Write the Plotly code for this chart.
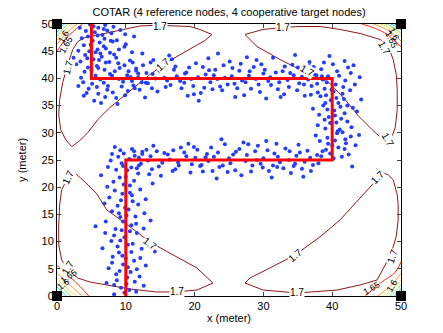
import plotly.graph_objects as go

# reference nodes (corners) and the true target route
anchor_x = [0, 0, 50, 50]
anchor_y = [0, 50, 0, 50]
path_x = [5, 5, 40, 40, 10, 10]
path_y = [50, 40, 40, 25, 25, 0]

# estimated positions, read segment by segment
seg_a = [(5.3, 49.6), (6.8, 49.1), (4.2, 48.7), (7.9, 48.3), (5.9, 47.9), (3.6, 47.4), (8.7, 47.0),
         (6.2, 46.6), (4.9, 46.2), (9.8, 45.8), (7.1, 45.5), (3.1, 45.1), (5.6, 44.8), (8.3, 44.4),
         (6.5, 44.0), (4.4, 43.7), (10.6, 43.3), (7.6, 43.0), (2.8, 42.6), (5.8, 42.3), (9.1, 41.9),
         (6.9, 41.6), (4.0, 41.2), (11.8, 40.9), (8.0, 40.5), (3.5, 40.1), (6.3, 39.8), (9.6, 39.4),
         (5.1, 39.0), (7.4, 38.6), (4.6, 38.1), (10.3, 37.7), (6.0, 37.2), (3.9, 36.8), (8.6, 36.4),
         (5.4, 35.9), (7.0, 49.8), (9.2, 48.9), (3.3, 49.3), (11.2, 47.7), (6.6, 48.0), (4.7, 45.0),
         (8.9, 42.8), (12.4, 44.6), (2.4, 43.8), (7.8, 46.9), (5.0, 41.5), (10.0, 46.3), (6.1, 43.4),
         (3.8, 39.3), (11.5, 41.4), (9.4, 38.5), (12.9, 39.2), (7.3, 37.9),
         (4.8, 49.9), (6.0, 49.3), (8.2, 49.5), (5.5, 48.5), (7.3, 48.8), (9.9, 48.1), (4.5, 47.7),
         (6.9, 47.3), (8.1, 46.8), (5.2, 46.9), (3.9, 46.1), (6.8, 45.9), (9.0, 45.3), (5.9, 45.3),
         (7.7, 44.7), (4.1, 44.3), (10.9, 44.8), (6.3, 44.6), (8.6, 43.8), (5.3, 43.5), (7.1, 42.9),
         (3.4, 43.1), (9.8, 42.4), (6.0, 41.9), (8.4, 41.3), (4.5, 42.0), (7.7, 40.8), (10.7, 40.2),
         (5.6, 40.5), (9.0, 39.9), (6.8, 39.2), (3.1, 38.6), (8.1, 37.4), (11.3, 38.2), (5.8, 38.4),
         (7.0, 36.6), (4.3, 37.3), (9.9, 36.9), (6.4, 35.5), (8.8, 35.3)]
seg_b = [(10.4, 41.3), (11.1, 38.7), (11.8, 40.2), (12.5, 42.4), (13.2, 39.1), (13.9, 40.8), (14.6, 37.6),
         (15.3, 41.9), (16.0, 39.6), (16.7, 43.5), (17.4, 40.4), (18.1, 38.2), (18.8, 41.1), (19.5, 39.9),
         (20.2, 42.8), (20.9, 37.3), (21.6, 40.7), (22.3, 39.3), (23.0, 41.6), (23.7, 38.5), (24.4, 40.1),
         (25.1, 43.1), (25.8, 39.0), (26.5, 41.4), (27.2, 36.9), (27.9, 40.5), (28.6, 42.1), (29.3, 38.9),
         (30.0, 40.9), (30.7, 39.5), (31.4, 43.8), (32.1, 38.0), (32.8, 41.3), (33.5, 39.7), (34.2, 42.5),
         (34.9, 37.8), (35.6, 40.3), (36.3, 41.8), (37.0, 38.6), (37.7, 40.6), (10.9, 39.5), (12.0, 37.9),
         (13.6, 42.9), (14.3, 40.0), (15.8, 38.4), (17.0, 41.6), (18.5, 39.2), (19.9, 37.1), (21.2, 42.1),
         (22.8, 40.6), (24.0, 37.8), (25.5, 41.9), (26.9, 39.6), (28.2, 38.1), (29.7, 42.6), (31.0, 40.2),
         (32.5, 36.6), (33.9, 41.0), (35.2, 39.1), (36.7, 43.0), (37.9, 37.4), (16.3, 44.2), (23.4, 44.6),
         (30.4, 36.3), (20.6, 35.9), (27.6, 43.9), (34.6, 44.3), (12.8, 36.5),
         (10.2, 40.6), (11.5, 41.8), (12.3, 39.3), (13.0, 41.0), (13.8, 38.2), (14.9, 41.4), (15.6, 40.1),
         (16.5, 38.8), (17.2, 42.2), (17.9, 39.5), (18.6, 40.9), (19.2, 42.0), (19.8, 38.6), (20.5, 40.2),
         (21.4, 38.3), (22.1, 41.5), (22.6, 38.0), (23.3, 39.9), (24.2, 42.4), (24.8, 38.9), (25.4, 40.4),
         (26.2, 38.2), (26.7, 42.7), (27.4, 39.3), (28.0, 41.3), (28.9, 39.9), (29.5, 37.5), (30.2, 41.6),
         (31.1, 38.8), (31.8, 41.1), (32.3, 39.3), (33.1, 42.2), (33.7, 38.4), (34.4, 40.6), (35.0, 42.0),
         (35.9, 38.9), (36.5, 39.8), (37.3, 42.1), (37.8, 39.0), (38.5, 40.4), (14.0, 43.4), (19.0, 36.8),
         (25.9, 36.6), (29.0, 43.4), (33.0, 37.1), (36.0, 36.8), (11.0, 42.9), (22.0, 43.7)]
seg_c = [(38.4, 41.7), (39.2, 39.3), (40.1, 42.6), (41.0, 40.5), (41.8, 43.2), (42.7, 41.0), (39.6, 44.1),
         (43.3, 38.9), (38.9, 38.1), (41.5, 37.2), (40.6, 36.4), (39.0, 35.5), (42.2, 35.0), (40.3, 34.1),
         (38.1, 33.3), (41.3, 32.6), (39.7, 31.8), (42.8, 31.0), (40.8, 30.3), (37.6, 29.5), (41.9, 28.8),
         (39.4, 28.0), (40.9, 27.3), (38.6, 26.6), (42.4, 26.0), (40.2, 25.3), (39.9, 37.9), (41.2, 34.8),
         (38.3, 36.7), (43.6, 33.9), (39.5, 32.9), (40.7, 29.9), (37.9, 31.4), (42.0, 28.1), (41.6, 38.4),
         (44.2, 36.1), (36.9, 37.0), (43.9, 29.6), (39.1, 26.9), (41.4, 25.6), (38.0, 24.4), (42.9, 23.8),
         (40.5, 38.9), (39.8, 36.0), (40.4, 33.2), (41.1, 30.6), (39.3, 29.1), (40.0, 27.7), (43.1, 42.4),
         (37.4, 40.7),
         (38.8, 42.9), (40.7, 41.3), (42.3, 42.0), (39.4, 40.4), (41.9, 39.6), (38.6, 39.8), (40.2, 37.6),
         (42.6, 37.8), (39.1, 36.9), (41.7, 36.2), (38.7, 35.0), (40.9, 35.5), (43.0, 34.6), (39.3, 34.3),
         (41.8, 33.6), (38.9, 32.4), (40.6, 31.9), (42.2, 32.1), (39.0, 30.8), (41.5, 30.1), (38.2, 28.5),
         (40.4, 28.6), (42.7, 29.3), (39.7, 26.2), (41.8, 27.0), (38.4, 25.7), (43.4, 27.7), (37.2, 34.4),
         (44.0, 40.2), (36.6, 42.3)]
seg_d = [(37.2, 24.1), (36.4, 26.7), (35.6, 23.4), (34.8, 25.8), (34.0, 22.6), (33.2, 27.1), (32.4, 24.6),
         (31.6, 26.2), (30.8, 23.0), (30.0, 25.3), (29.2, 27.6), (28.4, 24.0), (27.6, 25.9), (26.8, 22.2),
         (26.0, 26.5), (25.2, 24.4), (24.4, 27.9), (23.6, 23.7), (22.8, 25.6), (22.0, 24.8), (21.2, 22.9),
         (20.4, 26.9), (19.6, 24.2), (18.8, 25.7), (18.0, 27.3), (17.2, 23.3), (16.4, 25.1), (15.6, 26.3),
         (14.8, 23.8), (14.0, 27.6), (13.2, 24.9), (12.4, 26.1), (11.6, 23.5), (35.1, 27.8), (31.2, 21.8),
         (27.1, 28.2), (23.2, 21.6), (19.1, 28.0), (15.1, 22.1), (33.7, 25.0), (29.6, 24.3), (25.6, 26.0),
         (21.6, 25.5), (17.6, 24.6), (13.6, 25.7), (36.8, 25.4), (28.8, 26.6), (20.8, 23.9), (24.8, 22.8),
         (32.0, 23.7), (16.9, 26.8), (30.4, 28.5), (22.4, 27.3), (34.4, 23.9),
         (37.8, 25.9), (36.9, 23.0), (36.0, 24.7), (35.3, 26.4), (34.6, 24.3), (33.8, 26.6), (32.9, 23.5),
         (32.1, 25.6), (31.4, 24.0), (30.6, 26.8), (29.9, 23.6), (29.0, 25.0), (28.2, 22.9), (27.4, 24.8),
         (26.5, 27.0), (25.9, 23.1), (25.0, 25.3), (24.1, 24.0), (23.4, 26.4), (22.6, 23.0), (21.8, 26.1),
         (21.0, 24.1), (20.1, 25.4), (19.4, 22.7), (18.5, 26.4), (17.7, 24.0), (16.8, 23.0), (16.1, 26.0),
         (15.3, 24.5), (14.5, 26.6), (13.8, 23.3), (13.0, 26.9), (12.2, 24.3), (11.2, 26.6), (35.8, 21.9),
         (27.8, 27.9), (19.9, 27.4), (13.4, 22.4), (31.9, 28.0), (23.9, 28.8)]
seg_e = [(8.4, 27.4), (9.7, 26.2), (11.3, 25.8), (7.8, 24.9), (10.9, 27.0), (12.4, 26.5), (8.9, 25.6),
         (7.4, 23.7), (10.2, 23.1), (11.8, 22.5), (9.1, 21.8), (8.2, 21.0), (10.6, 20.3), (12.1, 19.6),
         (9.5, 18.8), (7.6, 18.1), (11.0, 17.4), (8.8, 16.6), (10.4, 15.9), (12.7, 15.2), (9.2, 14.5),
         (7.1, 13.7), (10.8, 13.0), (8.5, 12.3), (11.6, 11.6), (9.8, 10.8), (7.9, 10.1), (10.3, 9.4),
         (12.3, 8.7), (9.0, 8.0), (8.1, 7.2), (11.2, 6.5), (9.6, 5.8), (7.5, 5.1), (10.7, 4.4), (12.0, 3.6),
         (8.7, 2.9), (10.1, 2.2), (9.3, 1.5), (11.5, 0.8), (8.3, 0.3), (10.5, 1.1), (6.6, 8.8), (13.2, 10.3),
         (6.9, 17.0), (13.6, 13.9), (7.2, 2.4), (12.6, 1.9), (9.9, 16.2), (10.0, 6.9), (9.4, 12.1),
         (10.6, 19.0), (11.4, 14.6), (8.6, 4.0), (11.9, 24.0), (6.4, 22.2), (13.9, 20.7), (9.6, 23.9),
         (14.2, 8.2), (5.6, 12.8),
         (9.2, 26.8), (10.5, 25.2), (8.0, 26.1), (11.9, 25.4), (9.4, 24.4), (10.8, 23.6), (8.6, 23.2),
         (11.2, 21.2), (9.7, 20.5), (8.4, 19.4), (10.9, 18.5), (9.3, 17.6), (11.8, 16.8), (8.0, 15.6),
         (10.1, 14.8), (11.5, 13.3), (9.6, 13.7), (8.3, 11.1), (10.6, 11.9), (12.6, 12.4), (9.2, 10.2),
         (11.0, 9.6), (8.8, 9.1), (10.8, 8.1), (9.5, 7.4), (12.1, 7.0), (8.0, 6.1), (10.3, 5.3), (11.6, 4.9),
         (9.1, 4.6), (10.2, 3.4), (8.3, 2.0), (11.3, 2.6), (9.8, 0.6), (12.9, 5.6), (7.0, 11.6), (12.9, 17.8),
         (7.3, 20.1), (10.0, 21.9), (9.0, 15.2)]

# 1.7 contour loops
loop_tl_x = [2.14, 3.30, 4.47, 5.92, 7.67, 10.58, 13.49, 16.40, 19.32, 21.50, 22.52, 20.77, 19.32, 16.40,
             14.22, 12.04, 9.13, 6.22, 4.04, 3.03, 2.29, 1.56, 0.83, 0.39, 0.25, 0.54, 1.27, 2.14]
loop_tl_y = [27.44, 28.55, 30.02, 32.41, 34.62, 37.75, 40.70, 43.28, 45.30, 46.96, 48.07, 48.99, 49.54, 49.72,
             49.78, 49.63, 48.80, 48.07, 47.51, 46.78, 45.30, 42.54, 39.23, 36.10, 33.33, 30.57, 28.73, 27.44]
loop_tr_x = [27.32, 29.07, 32.42, 35.33, 37.51, 39.69, 41.88, 43.77, 45.81, 47.70, 48.57, 49.16, 49.45, 49.45,
             49.31, 48.87, 48.14, 46.98, 44.07, 41.16, 38.24, 35.33, 32.71, 29.94, 27.32]
loop_tr_y = [48.07, 45.86, 43.46, 41.62, 40.52, 39.04, 36.10, 33.15, 30.57, 28.36, 28.91, 30.94, 34.25, 37.94,
             40.70, 43.46, 45.86, 47.15, 48.25, 48.99, 49.54, 49.54, 49.36, 48.99, 48.07]
loop_bl_x = [2.58, 4.19, 5.78, 7.23, 9.85, 13.49, 17.13, 20.33, 22.66, 20.33, 17.13, 14.51, 10.58, 7.23,
             4.76, 3.01, 1.56, 0.68, 0.25, 0.25, 0.39, 0.68, 1.56, 2.58]
loop_bl_y = [22.65, 20.81, 18.78, 15.84, 13.44, 9.94, 7.37, 5.16, 2.39, 1.10, 0.74, 0.74, 1.29, 2.03,
             2.58, 3.31, 4.79, 6.63, 9.39, 13.08, 16.76, 19.52, 21.73, 22.65]
loop_br_x = [47.40, 45.51, 43.33, 41.15, 38.24, 34.60, 30.96, 28.05, 27.32, 29.94, 34.89, 40.71, 44.07, 46.53,
             47.70, 48.72, 49.30, 49.59, 49.59, 49.45, 48.87, 48.14, 47.40]
loop_br_y = [22.65, 20.07, 17.13, 14.00, 10.87, 7.55, 5.16, 3.31, 2.39, 1.10, 0.55, 1.10, 2.03, 2.95,
             5.71, 8.47, 10.87, 13.99, 16.76, 18.60, 21.36, 22.28, 22.65]

# corner contour arcs, outermost (1.65) to innermost
corner_colors = ["#ff2a1a", "#ff9a2a", "#e8e830", "#7ee07e", "#28c8f0", "#2040ff"]
arcs_bl = [([0, 1.6, 3.4, 4.6], [5.6, 3.8, 1.7, 0]), ([0, 1.5, 3.6], [4.2, 2.5, 0]),
           ([0, 1.2, 2.7], [3.2, 1.7, 0]), ([0, 1.0, 2.0], [2.4, 1.2, 0]),
           ([0, 0.7, 1.4], [1.7, 0.8, 0]), ([0, 0.4, 0.8], [1.0, 0.5, 0])]
arcs_tl = [([0, 1.5, 3.7], [45.0, 47.6, 50]), ([0, 1.3, 2.9], [46.2, 48.2, 50]),
           ([0, 1.0, 2.2], [47.0, 48.7, 50]), ([0, 0.8, 1.6], [47.7, 49.0, 50]),
           ([0, 0.5, 1.1], [48.4, 49.3, 50]), ([0, 0.3, 0.6], [49.1, 49.6, 50])]
arcs_tr = [([44.3, 47.6, 50], [50, 48.4, 45.8]), ([46.0, 48.3, 50], [50, 48.7, 46.9]),
           ([47.0, 48.8, 50], [50, 49.0, 47.7]), ([47.8, 49.1, 50], [50, 49.2, 48.3]),
           ([48.5, 49.4, 50], [50, 49.5, 48.9]), ([49.1, 49.6, 50], [50, 49.7, 49.4])]
arcs_br = [([50, 49.2, 47.0, 44.8], [6.3, 4.4, 2.4, 0]), ([50, 48.6, 46.6], [4.2, 2.0, 0]),
           ([50, 48.9, 47.6], [3.0, 1.4, 0]), ([50, 49.2, 48.4], [2.1, 0.9, 0]),
           ([50, 49.5, 49.0], [1.4, 0.6, 0]), ([50, 49.7, 49.4], [0.8, 0.3, 0])]

# contour labels: text, x, y, angle
labels_17 = [("1.7", 1.6, 42.0, -75), ("1.7", 15.0, 49.6, 0), ("1.7", 15.4, 42.5, -40),
             ("1.7", 32.9, 49.4, 0), ("1.7", 36.3, 41.4, 30), ("1.7", 48.1, 28.8, 60), ("1.7", 47.5, 45.6, 60),
             ("1.7", 1.6, 21.8, -65), ("1.7", 13.5, 9.7, 38), ("1.7", 17.5, 0.8, 0), ("1.7", 1.6, 5.2, -60),
             ("1.7", 34.6, 7.5, -40), ("1.7", 34.9, 0.6, 0), ("1.7", 48.7, 7.3, -70), ("1.7", 46.6, 21.7, -45)]
labels_corner = [("1.65", 1.3, 46.2, -60), ("1.6", 1.0, 47.8, -60),
                 ("1.65", 48.6, 47.0, 65), ("1.6", 49.0, 48.2, 65),
                 ("1.65", 1.8, 3.6, -35), ("1.6", 1.0, 2.2, -35),
                 ("1.65", 45.8, 1.4, -30), ("1.6", 48.7, 1.8, -60)]

fig = go.Figure()

# corner arcs
for arcs in [arcs_bl, arcs_tl, arcs_tr, arcs_br]:
    for (ax, ay), c in zip(arcs, corner_colors):
        fig.add_trace(go.Scatter(x=ax, y=ay, mode='lines', line=dict(color=c, width=1, shape='spline'),
                                 hoverinfo='skip', showlegend=False))

# 1.7 loops
for lx, ly in [(loop_tl_x, loop_tl_y), (loop_tr_x, loop_tr_y), (loop_bl_x, loop_bl_y), (loop_br_x, loop_br_y)]:
    fig.add_trace(go.Scatter(x=lx, y=ly, mode='lines', line=dict(color='rgb(140,25,25)', width=1),
                             hoverinfo='skip', showlegend=False))

# estimated target positions
for seg in [seg_a, seg_b, seg_c, seg_d, seg_e]:
    fig.add_trace(go.Scatter(x=[p[0] for p in seg], y=[p[1] for p in seg], mode='markers',
                             marker=dict(color='rgb(35,60,255)', size=4, line=dict(width=0)),
                             showlegend=False))

# true route
fig.add_trace(go.Scatter(x=path_x, y=path_y, mode='lines', line=dict(color='rgb(255,0,0)', width=3),
                         showlegend=False))

# reference nodes
fig.add_trace(go.Scatter(x=anchor_x, y=anchor_y, mode='markers', cliponaxis=False,
                         marker=dict(color='black', size=10, symbol='square'), showlegend=False))

for t, x, y, a in labels_17:
    fig.add_annotation(x=x, y=y, text=t, showarrow=False, textangle=a, bgcolor='white', borderpad=0,
                       font=dict(size=10, color='black', family='Liberation Sans'))
for t, x, y, a in labels_corner:
    fig.add_annotation(x=x, y=y, text=t, showarrow=False, textangle=a, borderpad=0,
                       font=dict(size=9, color='black', family='Liberation Sans'))

# axis titles placed like the original
fig.add_annotation(xref='paper', yref='paper', x=0.5, y=-0.081, xanchor='center', yanchor='middle',
                   text='x (meter)', showarrow=False, font=dict(size=11, color='black'))
fig.add_annotation(xref='paper', yref='paper', x=-0.102, y=0.5, xanchor='center', yanchor='middle',
                   text='y (meter)', showarrow=False, textangle=-90, font=dict(size=11, color='black'))

fig.update_layout(
    width=443, height=333,
    margin=dict(l=57, r=42, t=24, b=37),
    paper_bgcolor='white', plot_bgcolor='white',
    font=dict(family='Liberation Sans', size=11, color='black'),
    title=dict(text='COTAR (4 reference nodes, 4 cooperative target nodes)', x=0.517, xanchor='center',
               y=0.965, yanchor='middle', font=dict(size=11)),
)
fig.update_xaxes(range=[0, 50], tickvals=[0, 10, 20, 30, 40, 50], ticks='inside', ticklen=4,
                 showline=True, linecolor='black', linewidth=1, mirror='ticks', showgrid=False,
                 zeroline=False, automargin=False, tickfont=dict(size=11))
fig.update_yaxes(range=[0, 50], tickvals=list(range(0, 51, 5)), ticks='inside', ticklen=4,
                 showline=True, linecolor='black', linewidth=1, mirror='ticks', showgrid=False,
                 zeroline=False, automargin=False, tickfont=dict(size=11))

# the page's default body margin would shift the figure by 8px
fig.write_html("out.html", config={'displayModeBar': False},
               post_script="document.body.style.margin='0';")
